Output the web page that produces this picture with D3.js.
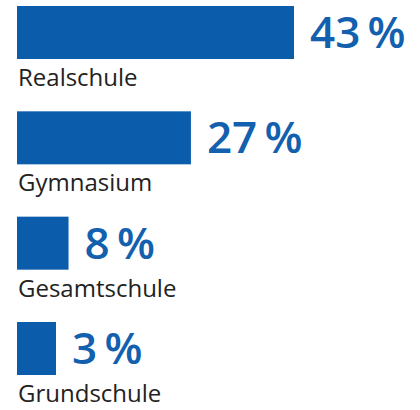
<!DOCTYPE html>
<html>
<head>
<meta charset="utf-8">
<script src="https://cdn.jsdelivr.net/npm/d3@7"></script>
<style>
  body { margin: 0; background: #fff; }
</style>
</head>
<body>
<div id="wrapper"></div>
<script>
const schools = ["Realschule", "Gymnasium", "Gesamtschule", "Grundschule"]
const shares = [43, 27, 8, 3]

function drawBars() {
  const data = schools.map((s, i) => ({ school: s, share: shares[i] }))

  const xAccessor = d => d.share
  const yAccessor = d => d.school

  let dms = {
    width: 420,
    height: 410,
    barHeight: 53,
    minBar: 39,
    margins: { top: 6, right: 10, bottom: 35, left: 17 }
  }
  dms.boundedWidth = dms.width - dms.margins.left - dms.margins.right
  dms.boundedHeight = dms.height - dms.margins.top - dms.margins.bottom

  const wrapper = d3.select("#wrapper")
    .append("svg")
    .attr("width", dms.width)
    .attr("height", dms.height)

  const bounds = wrapper.append("g")
    .attr("transform", `translate(${dms.margins.left},${dms.margins.top})`)

  const xScale = d3.scaleLinear()
    .domain([0, 43])
    .range([0, 277])

  // bar tops, first to last
  const yScale = d3.scalePoint()
    .domain(schools)
    .range([0, 316])

  const barWidth = d => Math.max(xScale(xAccessor(d)), dms.minBar)

  const rows = bounds.selectAll("g.row")
    .data(data)
    .join("g")
    .attr("class", "row")
    .attr("transform", d => `translate(0,${yScale(yAccessor(d))})`)

  rows.append("rect")
    .attr("x", 0)
    .attr("y", 0)
    .attr("width", barWidth)
    .attr("height", dms.barHeight)
    .attr("fill", "#0b5cab")

  rows.append("text")
    .attr("x", d => barWidth(d) + 16)
    .attr("y", 42)
    .attr("fill", "#1260ae")
    .style("font-family", "'Open Sans', sans-serif")
    .style("font-weight", 600)
    .style("font-size", "44px")
    .text(d => `${xAccessor(d)}\u2009%`)

  rows.append("text")
    .attr("x", 1)
    .attr("y", dms.barHeight + 27)
    .attr("fill", "#222")
    .style("font-family", "'Open Sans', sans-serif")
    .style("font-size", "24px")
    .text(yAccessor)
}

drawBars()
</script>
</body>
</html>
